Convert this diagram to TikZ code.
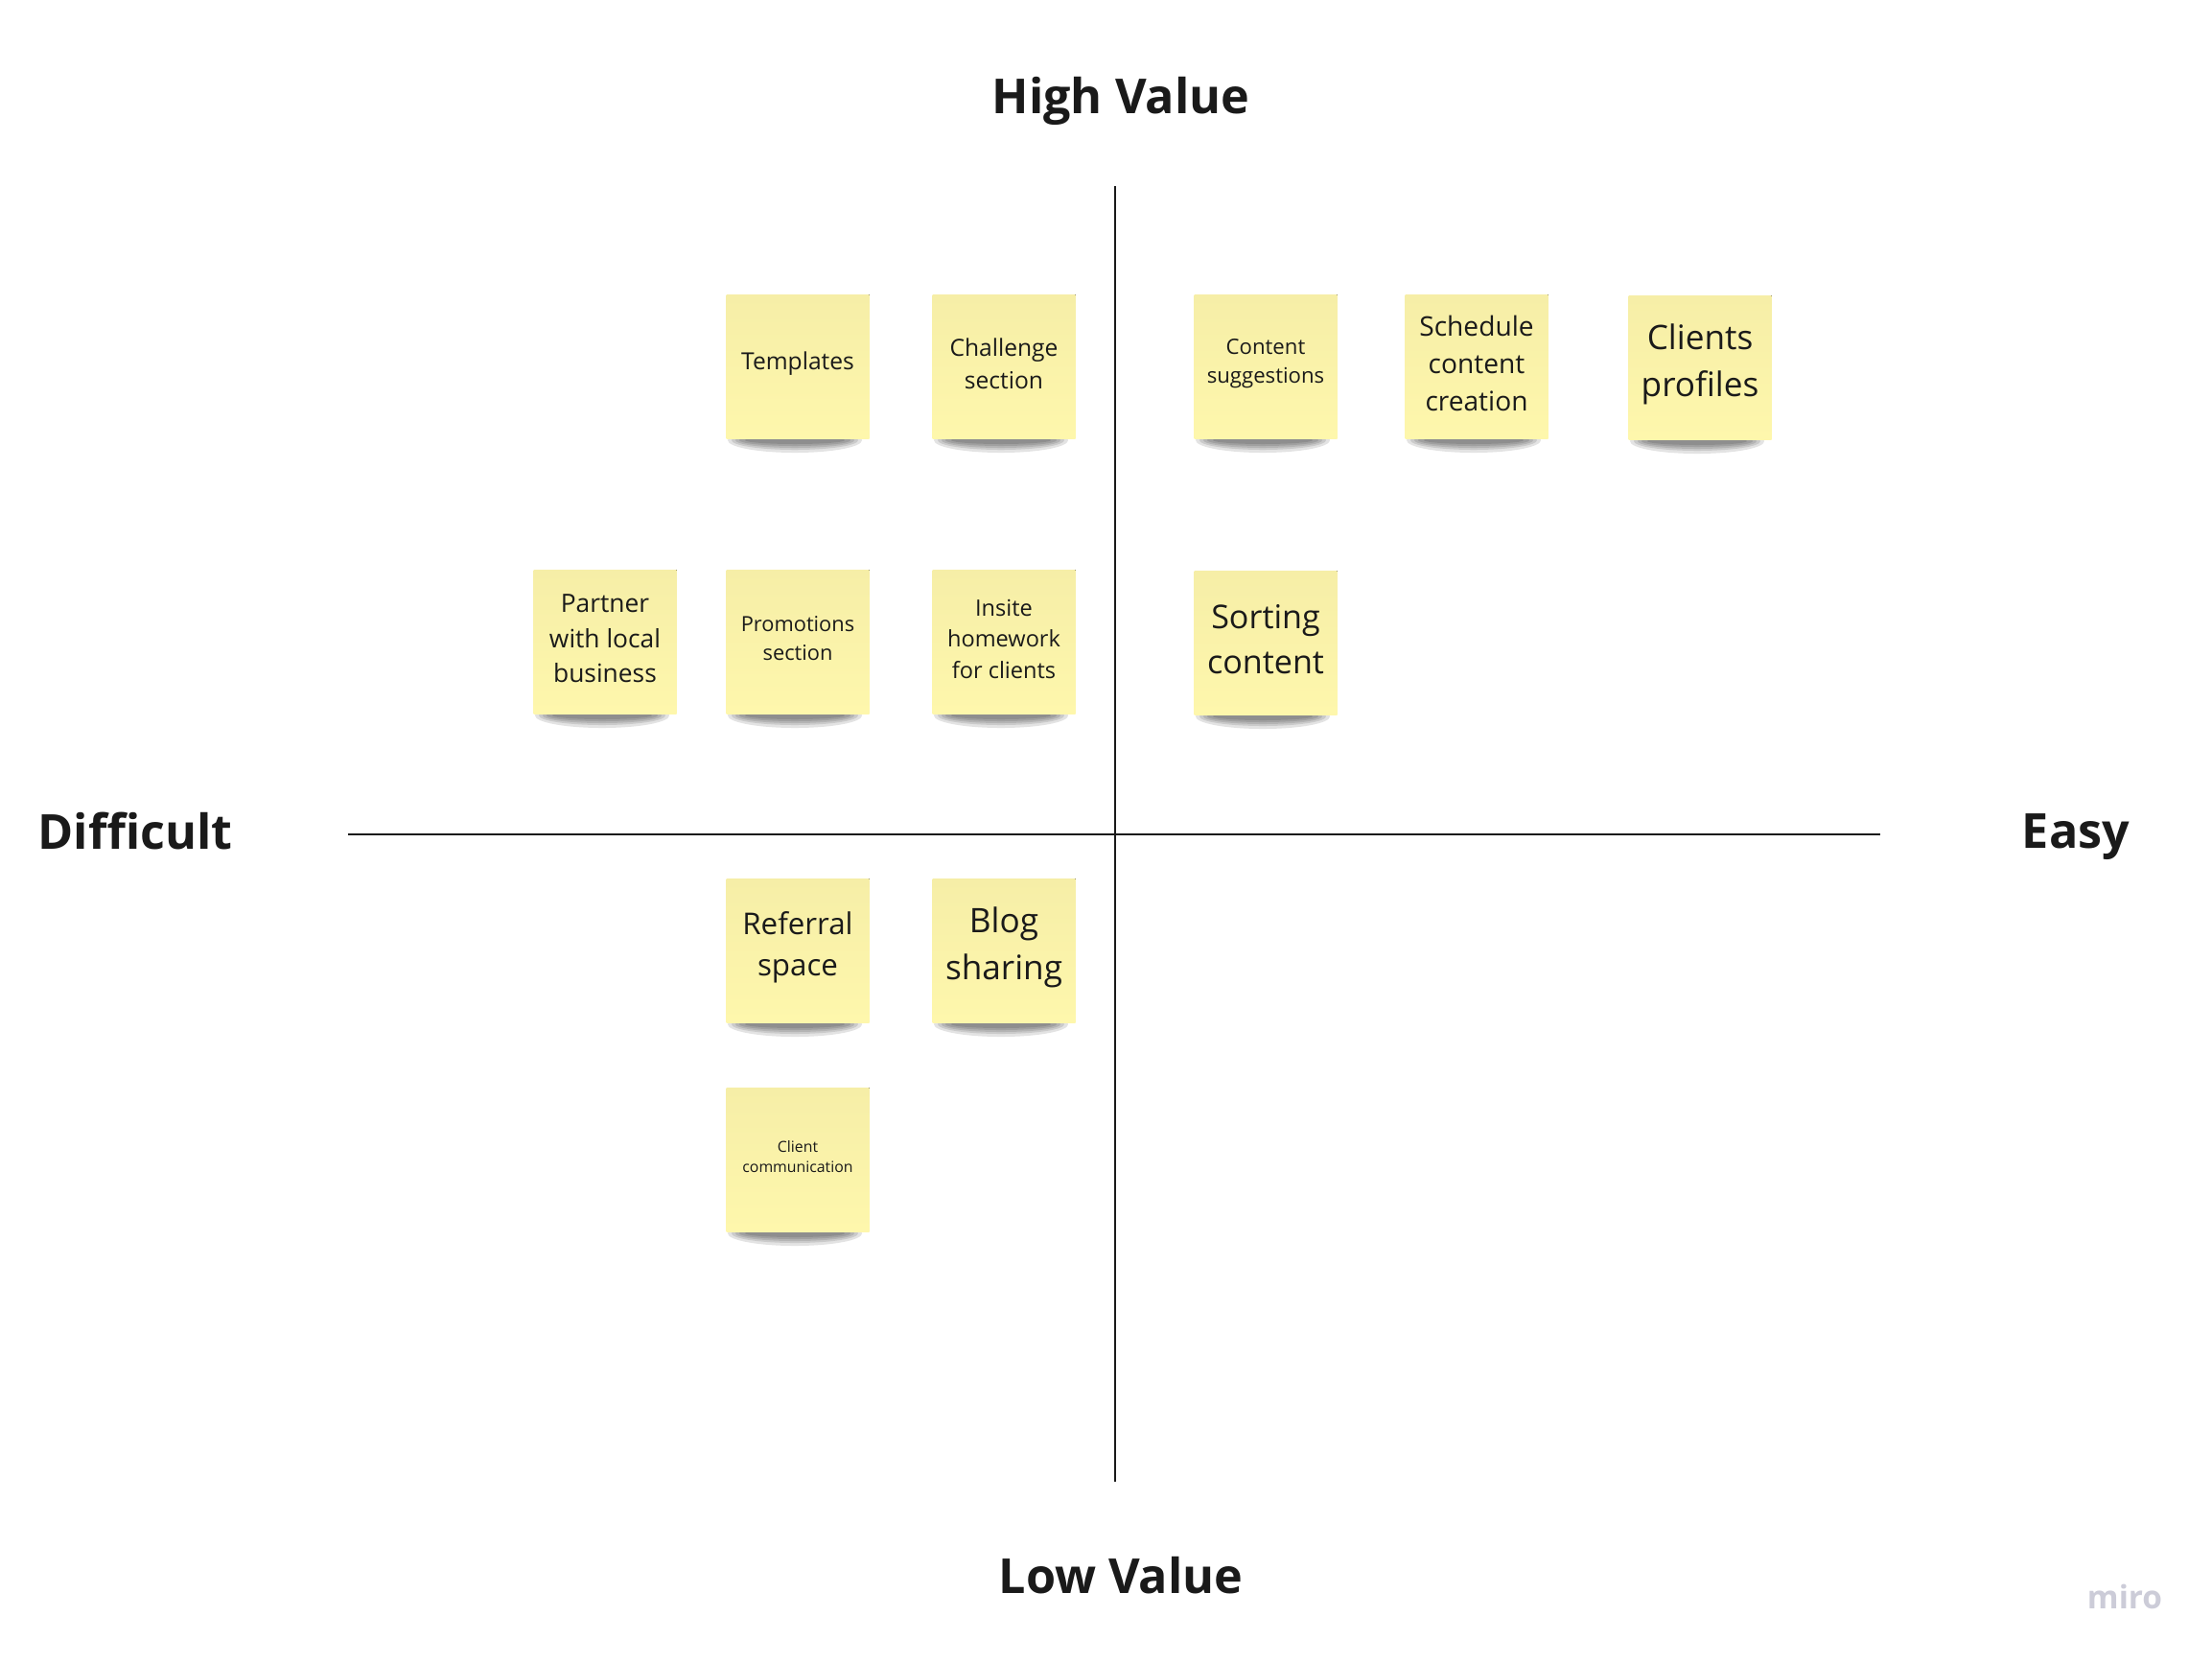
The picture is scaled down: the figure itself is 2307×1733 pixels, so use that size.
\documentclass[tikz,border=0pt]{standalone}
\usepackage{fontspec}
\setmainfont{Open Sans}
\definecolor{NoteYellow}{RGB}{254,247,172}
\definecolor{NoteTop}{RGB}{246,238,167}
\definecolor{InkGrey}{RGB}{26,26,26}
\definecolor{MiroGrey}{RGB}{204,204,216}
\usetikzlibrary{backgrounds}
\newcommand{\notesize}[1]{\fontsize{#1}{\fpeval{1.38*#1}}\selectfont}

\begin{document}
\begin{tikzpicture}[x=0.01cm, y=-0.01cm,
    note/.style={align=center, text=InkGrey, inner sep=0pt},
    axis/.style={line width=0.42pt, InkGrey},
    title/.style={anchor=base, text=InkGrey, inner sep=0pt,
                  font=\bfseries\fontsize{14.3}{17}\selectfont}
  ]
    \useasboundingbox (0,0) rectangle (2307,1733);

    % axes
    \coordinate (vtop) at (1163,194);
    \coordinate (vbot) at (1163,1545);
    \coordinate (hleft) at (363,870);
    \coordinate (hright) at (1961,870);
    \draw[axis] (vtop) -- (vbot);
    \draw[axis] (hleft) -- (hright);

    \node[title] (high) at (1169,118) {High Value};
    \node[title] (low) at (1169,1661) {Low Value};
    \node[title] (diff) at (141,885) {Difficult};
    \node[title] (easy) at (2165,884) {Easy};
    \node[anchor=base, text=MiroGrey, inner sep=0pt,
          font=\bfseries\fontsize{9.5}{11}\selectfont] (miro) at (2216,1677) {miro};

    % sticky notes (placed at their text)
    \node[note, font=\notesize{7}]    (tmpl)   at (832,379)  {Templates};
    \node[note, font=\notesize{7}]    (chal)   at (1047,379) {Challenge\\section};
    \node[note, font=\notesize{6.3}]  (csug)   at (1320,379) {Content\\suggestions};
    \node[note, font=\notesize{8}]    (sched)  at (1540,379) {Schedule\\content\\creation};
    \node[note, font=\notesize{10}]   (prof)   at (1773,380) {Clients\\profiles};
    \node[note, font=\notesize{7.5}]  (part)   at (631,666)  {Partner\\with local\\business};
    \node[note, font=\notesize{6.2}]  (promo)  at (832,666)  {Promotions\\section};
    \node[note, font=\notesize{6.7}]  (insite) at (1047,666) {Insite\\homework\\for clients};
    \node[note, font=\notesize{9.7}]  (sort)   at (1320,667) {Sorting\\content};
    \node[note, font=\notesize{8.9}]  (refer)  at (832,988)  {Referral\\space};
    \node[note, font=\notesize{10}]   (blog)   at (1047,988) {Blog\\sharing};
    \node[note, font=\notesize{4.5}]  (comm)   at (832,1206) {Client\\communication};

    \begin{scope}[on background layer]
      \foreach \n in {tmpl,chal,csug,sched,prof,part,promo,insite,sort,refer,blog,comm}{
        \foreach \r/\s in {0.70/0.13,0.66/0.10,0.62/0.08,0.58/0.06,0.52/0.04}
          \fill[black, opacity=0.11] (\n.center) ++(-3,80)
            ellipse [x radius=\r cm, y radius=\s cm];
        \fill[top color=NoteTop, bottom color=NoteYellow]
          (\n.center) ++(-74.5,-72) rectangle ++(149,150);
      }
    \end{scope}
  \end{tikzpicture}
\end{document}
